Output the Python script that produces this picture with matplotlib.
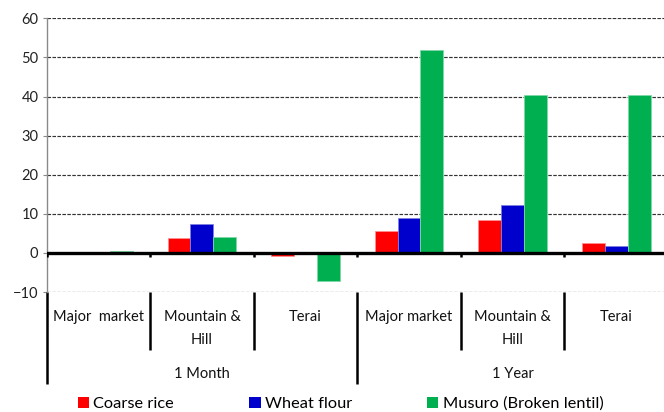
import matplotlib
matplotlib.use('Agg')
import matplotlib.pyplot as plt
import numpy as np
from matplotlib.transforms import blended_transform_factory
from matplotlib.patches import Patch

# ---- data ----
markets = ["Major  market", "Mountain &\nHill", "Terai", "Major market", "Mountain &\nHill", "Terai"]
periods = ["1 Month", "1 Year"]
series = ["Coarse rice", "Wheat flour", "Musuro (Broken lentil)"]
coarse_rice = [0.0, 3.8, -0.7, 5.7, 8.5, 2.5]
wheat_flour = [0.0, 7.3, 0.2, 8.8, 12.2, 1.8]
musuro = [0.6, 4.1, -7.1, 52.0, 40.4, 40.4]
colors = ["#FF0000", "#0000CC", "#00B050"]
edge_colors = ["#FF9090", "#8080E0", "#80D8A8"]
yticks = [-10, 0, 10, 20, 30, 40, 50, 60]

plt.rcParams['font.family'] = ['Lato', 'DejaVu Sans']

W, H = 664, 412
fig = plt.figure(figsize=(6.64, 4.12), dpi=100)


def fx(px):
    return px / W


def fy(py):
    return 1 - py / H


left_px, right_px = 46.7, 667.8
top_px, bottom_px = 18.3, 292
ax = fig.add_axes([fx(left_px), fy(bottom_px), fx(right_px - left_px), fy(top_px) - fy(bottom_px)])

n = len(markets)
x = np.arange(n) + 0.5
bw = 0.222
all_vals = [coarse_rice, wheat_flour, musuro]
handles = []
for i, (vals, c, ec, name) in enumerate(zip(all_vals, colors, edge_colors, series)):
    ax.bar(x + (i - 1) * bw, vals, width=bw, color=c, edgecolor=ec, linewidth=0.6, zorder=2)
    handles.append(Patch(facecolor=c, edgecolor='none', label=name))

ax.set_xlim(0, n)
ax.set_ylim(-10, 60)

# gridlines
for y in yticks:
    if y != 0:
        ax.axhline(y, color='#333333', lw=0.85, ls=(0, (3, 1.2)), zorder=1)
ax.axhline(0, color='black', lw=2.4, zorder=3)
ax.vlines(np.arange(n + 1), -1.1, 0, colors='black', lw=1.8, zorder=3)

for s in ['top', 'right', 'bottom']:
    ax.spines[s].set_visible(False)
ax.spines['left'].set_color('#8a8a8a')
ax.spines['left'].set_linewidth(1.0)
ax.set_xticks([])
ax.set_yticks(yticks)
ax.tick_params(axis='y', length=3, color='#8a8a8a', labelsize=10.5, pad=3, labelcolor='#222222')

# category axis below the plot
trans = blended_transform_factory(ax.transData, fig.transFigure)
for i, lab in enumerate(markets):
    for j, line in enumerate(lab.split("\n")):
        ax.text(i + 0.5, fy(317 + 23 * j), line, transform=trans, ha='center', va='center',
                fontsize=10.5, color='#111111')
for k, p in enumerate(periods):
    ax.text(1.5 + 3 * k, fy(374), p, transform=trans, ha='center', va='center',
            fontsize=10.5, color='#111111')

for b in range(n + 1):
    end = 384 if b % 3 == 0 else 350
    ax.plot([b, b], [fy(292), fy(end)], transform=trans, color='black', lw=1.8,
            clip_on=False, solid_capstyle='butt')

fig.legend(handles=handles, loc='center left', bbox_to_anchor=(fx(78), fy(404)),
           ncol=3, frameon=False, fontsize=11.8, handlelength=0.68, handleheight=0.68,
           handletextpad=0.25, columnspacing=4.6, borderpad=0, borderaxespad=0)

fig.savefig('out.png', dpi=100)
